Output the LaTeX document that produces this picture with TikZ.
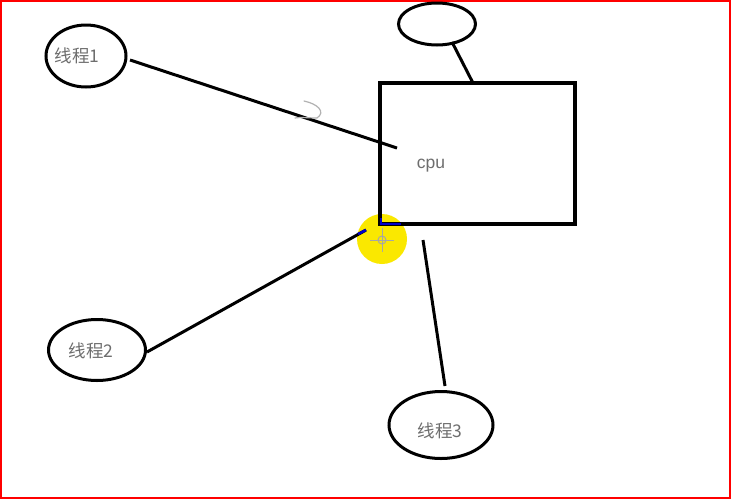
\documentclass[tikz,border=0pt]{standalone}
\usepackage{fontspec}
\setmainfont{Liberation Sans}
\newfontfamily\cjk{Noto Sans CJK SC}
\usetikzlibrary{shapes.geometric}
\definecolor{txtgray}{RGB}{110,110,110}
\definecolor{hl}{RGB}{250,232,0}
\begin{document}
\begin{tikzpicture}[x=1pt,y=-1pt,
  bubble/.style={draw=black,ellipse,line width=3pt,inner sep=0pt},
  lbl/.style={text=txtgray,font=\cjk\fontsize{17.5}{18}\selectfont,inner sep=0pt},
  wire/.style={draw=black,line width=3pt}]
\useasboundingbox (0,0) rectangle (731,499);
\fill[white] (0,0) rectangle (731,499);
\draw[red,line width=1.6pt] (0.8,0.8) rectangle (730.2,498.2);
% highlight
\fill[hl] (382,239) circle (25);
% nodes
\node[draw=black,line width=3.5pt,minimum width=195pt,minimum height=141pt,inner sep=0pt] (cpu) at (477.5,153.5) {};
\node[text=txtgray,font=\fontsize{17.5}{18}\selectfont,inner sep=0pt] (cpulbl) at (431,166) {cpu};
\node[bubble,minimum width=77pt,minimum height=42pt] (top) at (437,24) {};
\node[bubble,minimum width=80pt,minimum height=62pt] (e1) at (86,56) {};
\node[lbl] (t1) at (77,56) {线程1};
\node[bubble,minimum width=97pt,minimum height=61pt] (e2) at (97,350) {};
\node[lbl] (t2) at (91,351) {线程2};
\node[bubble,minimum width=104pt,minimum height=67pt] (e3) at (441,425) {};
\node[lbl] (t3) at (440,431) {线程3};
% free ends
\coordinate (c1) at (397,148);
\coordinate (c2) at (366,230);
\coordinate (c3) at (423,240);
\coordinate (ctop) at (473,83);
\coordinate (s1) at (130,60);
\coordinate (s2) at (147,352);
\coordinate (s3) at (445,386);
\coordinate (stop) at (452,42);
% connectors
\draw[wire] (s1) -- (c1);
\draw[wire] (s2) -- (c2);
\draw[wire] (c3) -- (s3);
\draw[wire] (stop) -- (ctop);
% blue touches
\draw[blue!80!black,line width=2.5pt] (358,234) -- (c2);
\draw[blue!80!black,line width=2pt] (381,218) -- (381,224) -- (401,224);
% cursor crosshair
\draw[black!35,line width=1pt] (382,228) -- (382,252) (370,240) -- (394,240);
\draw[black!35,line width=1pt] (382,240) circle (4);
% stray pen mark
\draw[black!30,line width=1.2pt,line cap=round] (304,101) .. controls (318,104) and (326,112) .. (317,118) .. controls (310,118) and (300,117) .. (295,118);
\end{tikzpicture}
\end{document}
